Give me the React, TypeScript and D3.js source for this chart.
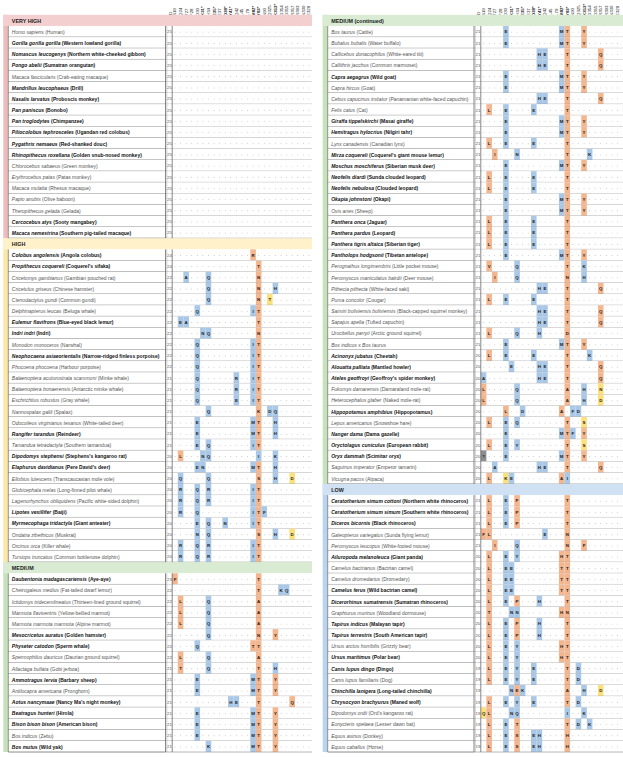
import React from "react";
import * as d3 from "d3";

const residues = ["S19","Q24","T27","F28","D30","K31*","H34","E35*","E37","D38*","Y41*","Q42","L45","L79","M82*","Y83*","N90","Q325","K353*","G354","D355","R357","R393","N330","E329"];

type Row = [string, string, number, number, string];

const veryHighRows: Row[] = [
  ["Homo sapiens","Human",0,25,""],
  ["Gorilla gorilla gorilla","Western lowland gorilla",1,25,""],
  ["Nomascus leucogenys","Northern white-cheeked gibbon",1,25,""],
  ["Pongo abelii","Sumatran orangutan",1,25,""],
  ["Macaca fascicularis","Crab-eating macaque",0,25,""],
  ["Mandrillus leucophaeus","Drill",1,25,""],
  ["Nasalis larvatus","Proboscis monkey",1,25,""],
  ["Pan paniscus","Bonobo",1,25,""],
  ["Pan troglodytes","Chimpanzee",1,25,""],
  ["Piliocolobus tephrosceles","Ugandan red colobus",1,25,""],
  ["Pygathrix nemaeus","Red-shanked douc",1,25,""],
  ["Rhinopithecus roxellana","Golden snub-nosed monkey",1,25,""],
  ["Chlorocebus sabaeus","Green monkey",0,25,""],
  ["Erythrocebus patas","Patas monkey",0,25,""],
  ["Macaca mulatta","Rhesus macaque",0,25,""],
  ["Papio anubis","Olive baboon",0,25,""],
  ["Theropithecus gelada","Gelada",0,25,""],
  ["Cercocebus atys","Sooty mangabey",1,25,""],
  ["Macaca nemestrina","Southern pig-tailed macaque",1,25,""],
];

const highRows: Row[] = [
  ["Colobus angolensis","Angola colobus",1,24,"14R:o"],
  ["Propithecus coquereli","Coquerel's sifaka",1,24,"15T:o"],
  ["Cricetomys gambianus","Gambian pouched rat",0,22,"2A:b 6Q:b 15N:o"],
  ["Cricetulus griseus","Chinese hamster",0,22,"6Q:b 15N:o 18H:b"],
  ["Ctenodactylus gundi","Common gundi",0,22,"6Q:b 15N:o 17T:y"],
  ["Delphinapterus leucas","Beluga whale",0,22,"4Q:b 14I:b 15T:o"],
  ["Eulemur flavifrons","Blue-eyed black lemur",1,22,"1E:b 2A:b 15T:o"],
  ["Indri indri","Indri",1,22,"5N:b 6Q:b 15N:o"],
  ["Monodon monoceros","Narwhal",0,22,"4Q:b 14I:b 15T:o"],
  ["Neophocaena asiaeorientalis","Narrow-ridged finless porpoise",1,22,"4Q:b 14I:b 15T:o"],
  ["Phocoena phocoena","Harbour porpoise",0,22,"4Q:b 14I:b 15T:o"],
  ["Balaenoptera acutorostrata scammoni","Minke whale",0,21,"4Q:b 11R:b 14I:b 15T:o"],
  ["Balaenoptera bonaerensis","Antarctic minke whale",0,21,"4Q:b 11R:b 14I:b 15T:o"],
  ["Eschrichtius robustus","Gray whale",0,21,"4Q:b 11E:b 14I:b 15T:o"],
  ["Nannospalax galili","Spalax",0,21,"6Q:b 15K:o 17D:b 18Q:b"],
  ["Odocoileus virginianus texanus","White-tailed deer",0,21,"4E:b 14M:b 15T:o 18H:b"],
  ["Rangifer tarandus","Reindeer",1,21,"4E:b 14M:b 15T:o 18H:b"],
  ["Tamandua tetradactyla","Southern tamandua",0,21,"4E:b 6Q:b 14I:b 15T:o"],
  ["Dipodomys stephensi","Stephens's kangaroo rat",1,20,"1L:o 5N:b 6Q:b 15I:b 18K:b"],
  ["Elaphurus davidianus","Pere David's deer",1,20,"4E:b 5N:b 14M:b 15T:o 18H:b"],
  ["Ellobius lutescens","Transcaucasian mole vole",0,20,"1Q:b 6Q:b 15S:o 18H:b 21D:y"],
  ["Globicephala melas","Long-finned pilot whale",0,20,"1R:b 4Q:b 6R:b 14I:b 15T:o"],
  ["Lagenorhynchus obliquidens","Pacific white-sided dolphin",0,20,"1R:b 4Q:b 6R:b 14I:b 15T:o"],
  ["Lipotes vexillifer","Baiji",1,20,"1R:b 4Q:b 14I:b 15T:o 16F:b"],
  ["Myrmecophaga tridactyla","Giant anteater",1,20,"4E:b 6Q:b 9N:b 14I:b 15T:o"],
  ["Ondatra zibethicus","Muskrat",0,20,"4N:b 6Q:b 15S:o 18H:b 21D:y"],
  ["Orcinus orca","Killer whale",0,20,"1R:b 4Q:b 6R:b 14I:b 15T:o"],
  ["Tursiops truncatus","Common bottlenose dolphin",0,20,"1R:b 4Q:b 6R:b 14I:b 15T:o"],
];

const mediumRows: Row[] = [
  ["Daubentonia madagascariensis","Aye-aye",1,23,"0F:o 15T:o"],
  ["Cheirogaleus medius","Fat-tailed dwarf lemur",0,22,"15T:o 19K:b 20Q:b"],
  ["Ictidomys tridecemlineatus","Thirteen-lined ground squirrel",0,22,"1L:o 6Q:b 15A:o"],
  ["Marmota flaviventris","Yellow-bellied marmot",0,22,"1L:o 6Q:b 15A:o"],
  ["Marmota marmota marmota","Alpine marmot",0,22,"1L:o 6Q:b 15A:o"],
  ["Mesocricetus auratus","Golden hamster",1,22,"6Q:b 15N:o 18Y:o"],
  ["Physeter catodon","Sperm whale",1,22,"4Q:b 14T:o 15T:o"],
  ["Spermophilus dauricus","Daurian ground squirrel",0,22,"1L:o 6Q:b 15A:o"],
  ["Allactaga bullata","Gobi jerboa",0,21,"1T:o 6Q:b 15T:o 18H:b"],
  ["Ammotragus lervia","Barbary sheep",1,21,"4E:b 14M:b 15T:o 18Y:o"],
  ["Antilocapra americana","Pronghorn",0,21,"4E:b 14M:b 15T:o 18Y:o"],
  ["Aotus nancymaae","Nancy Ma's night monkey",1,21,"10H:b 11E:b 15T:o 21Q:o"],
  ["Beatragus hunteri","Hirola",1,21,"4E:b 14M:b 15T:o 18Y:o"],
  ["Bison bison bison","American bison",1,21,"4E:b 14M:b 15T:o 18Y:o"],
  ["Bos indicus","Zebu",0,21,"4E:b 14M:b 15T:o 18Y:o"],
  ["Bos mutus","Wild yak",1,21,"6K:b 14M:b 15T:o 18Y:o"],
];

const mediumContRows: Row[] = [
  ["Bos taurus","Cattle",0,21,"4E:b 14M:b 15T:o 18Y:o"],
  ["Bubalus bubalis","Water buffalo",0,21,"4E:b 14M:b 15T:o 18Y:o"],
  ["Callicebus donacophilus","White-eared titi",0,21,"10H:b 11E:b 15T:o 21Q:o"],
  ["Callithrix jacchus","Common marmoset",0,21,"10H:b 11E:b 15T:o 21Q:o"],
  ["Capra aegagrus","Wild goat",1,21,"4E:b 14M:b 15T:o 18Y:o"],
  ["Capra hircus","Goat",0,21,"4E:b 14M:b 15T:o 18Y:o"],
  ["Cebus capucinus imitator","Panamanian white-faced capuchin",0,21,"10H:b 11E:b 15T:o 21Q:o"],
  ["Felis catus","Cat",0,21,"1L:o 4E:b 9E:b 15T:o"],
  ["Giraffa tippelskirchi","Masai giraffe",1,21,"4E:b 14M:b 15T:o 18Y:o"],
  ["Hemitragus hylocrius","Nilgiri tahr",1,21,"4E:b 14M:b 15T:o 18Y:o"],
  ["Lynx canadensis","Canadian lynx",0,21,"1L:o 4E:b 9E:b 15T:o"],
  ["Mirza coquereli","Coquerel's giant mouse lemur",1,21,"2I:o 6N:b 15T:o 19K:b"],
  ["Moschus moschiferus","Siberian musk deer",1,21,"4E:b 14M:b 15T:o 18Y:o"],
  ["Neofelis diardi","Sunda clouded leopard",1,21,"1L:o 4E:b 9E:b 15T:o"],
  ["Neofelis nebulosa","Clouded leopard",1,21,"1L:o 4E:b 9E:b 15T:o"],
  ["Okapia johnstoni","Okapi",1,21,"4E:b 14M:b 15T:o 18Y:o"],
  ["Ovis aries","Sheep",0,21,"4E:b 14M:b 15T:o 18Y:o"],
  ["Panthera onca","Jaguar",1,21,"1L:o 4E:b 9E:b 15T:o"],
  ["Panthera pardus","Leopard",1,21,"1L:o 4E:b 9E:b 15T:o"],
  ["Panthera tigris altaica","Siberian tiger",1,21,"1L:o 4E:b 9E:b 15T:o"],
  ["Pantholops hodgsonii","Tibetan antelope",1,21,"4E:b 14M:b 15T:o 18Y:o"],
  ["Perognathus longimembris","Little pocket mouse",0,21,"1V:o 6Q:b 15T:o 18K:b"],
  ["Peromyscus maniculatus bairdii","Deer mouse",0,21,"2I:o 6Q:b 15N:o 18H:b"],
  ["Pithecia pithecia","White-faced saki",0,21,"10H:b 11E:b 15T:o 21Q:o"],
  ["Puma concolor","Cougar",0,21,"1L:o 4E:b 9E:b 15T:o"],
  ["Saimiri boliviensis boliviensis","Black-capped squirrel monkey",0,21,"10H:b 11E:b 15T:o 21Q:o"],
  ["Sapajus apella","Tufted capuchin",0,21,"10H:b 11E:b 15T:o 21Q:o"],
  ["Urocitellus parryii","Arctic ground squirrel",0,21,"1L:o 6Q:b 10H:b 15D:o"],
  ["Bos indicus x Bos taurus","",0,21,"4E:b 14M:b 15T:o 18Y:o"],
  ["Acinonyx jubatus","Cheetah",1,20,"1L:o 4E:b 9E:b 15T:o 19K:b"],
  ["Alouatta palliata","Mantled howler",1,20,"5E:b 10H:b 11E:b 15T:o 21Q:o"],
  ["Ateles geoffroyi","Geoffroy's spider monkey",1,20,"0A:b 10H:b 11E:b 15T:o 21Q:o"],
  ["Fukomys damarensis","Damaraland mole-rat",0,20,"0L:o 6Q:b 15A:o 18H:b 21N:y"],
  ["Heterocephalus glaber","Naked mole-rat",0,20,"0L:o 6Q:b 15A:o 18H:b 21D:y"],
  ["Hippopotamus amphibius","Hippopotamus",1,20,"4L:o 7D:b 14A:o 16F:b 17D:b"],
  ["Lepus americanus","Snowshoe hare",0,20,"1L:o 4E:b 6Q:b 15T:o 18S:y"],
  ["Nanger dama","Dama gazelle",1,20,"4E:b 14M:b 15T:o 16F:b 18Y:o"],
  ["Oryctolagus cuniculus","European rabbit",1,20,"1L:o 4E:b 6Y:b 15T:o 18S:y"],
  ["Oryx dammah","Scimitar oryx",1,20,"0?:g 4E:b 14M:b 15T:o 18Y:o"],
  ["Saguinus imperator","Emperor tamarin",0,20,"2A:b 10H:b 11E:b 15T:o 21Q:o"],
  ["Vicugna pacos","Alpaca",0,20,"1L:o 4K:y 5E:b 14A:o 15I:b"],
];

const lowRows: Row[] = [
  ["Ceratotherium simum cottoni","Northern white rhinoceros",1,21,"1L:o 4E:b 6P:o 15T:o"],
  ["Ceratotherium simum simum","Southern white rhinoceros",1,21,"1L:o 4E:b 6P:o 15T:o"],
  ["Diceros bicornis","Black rhinoceros",1,21,"1L:o 4E:b 6P:o 15T:o"],
  ["Galeopterus variegatus","Sunda flying lemur",0,21,"0F:o 1L:o 11E:b 15N:o"],
  ["Peromyscus leucopus","White-footed mouse",0,21,"2I:o 6Q:b 15N:o 18F:o"],
  ["Ailuropoda melanoleuca","Giant panda",1,20,"1L:o 4E:b 6Y:b 14H:o 15T:o"],
  ["Camelus bactrianus","Bactrian camel",0,20,"1L:o 4E:b 5E:b 14T:o 15T:o"],
  ["Camelus dromedarius","Dromedary",0,20,"1L:o 4E:b 5E:b 14T:o 15T:o"],
  ["Camelus ferus","Wild bactrian camel",1,20,"1L:o 4E:b 5E:b 14T:o 15T:o"],
  ["Dicerorhinus sumatrensis","Sumatran rhinoceros",1,20,"1L:o 4E:b 6P:o 10H:b 15T:o"],
  ["Graphiurus murinus","Woodland dormouse",0,20,"1T:o 5N:b 6N:b 14H:o 15N:o"],
  ["Tapirus indicus","Malayan tapir",1,20,"1L:o 4E:b 6P:o 10H:b 15T:o"],
  ["Tapirus terrestris","South American tapir",1,20,"1L:o 4E:b 6P:o 10H:b 15T:o"],
  ["Ursus arctos horribilis","Grizzly bear",0,20,"1L:o 4E:b 6Y:b 14H:o 15T:o"],
  ["Ursus maritimus","Polar bear",1,20,"1L:o 4E:b 6Y:b 14H:o 15T:o"],
  ["Canis lupus dingo","Dingo",1,19,"1L:o 4E:b 6Y:b 9E:b 15T:o 17D:b"],
  ["Canis lupus familiaris","Dog",0,19,"1L:o 4E:b 6Y:b 9E:b 15T:o 17D:b"],
  ["Chinchilla lanigera","Long-tailed chinchilla",1,19,"5N:b 6E:o 7K:b 15A:o 18H:b 21D:y"],
  ["Chrysocyon brachyurus","Maned wolf",1,19,"1L:o 4E:b 6Y:b 9E:b 15T:o 17D:b"],
  ["Dipodomys ordii","Ord's kangaroo rat",0,19,"0Q:y 1L:o 5N:b 6Q:b 15I:b 18K:b"],
  ["Eonycteris spelaea","Lesser dawn bat",0,19,"1L:o 4E:b 6T:o 15T:o 17D:b 19K:b"],
  ["Equus asinus","Donkey",0,19,"1L:o 4E:b 6S:o 9E:b 10H:b 15H:o"],
  ["Equus caballus","Horse",0,19,"1L:o 4E:b 6S:o 9E:b 10H:b 15H:o"],
];

const sectionColors: Record<string, { bar: string; stripe: string }> = {
  vh: { bar: "#f4cfcf", stripe: "#eebcbc" },
  hi: { bar: "#fff1c9", stripe: "#fde7a6" },
  md: { bar: "#d9ebd2", stripe: "#c6e2ba" },
  lo: { bar: "#cfe1f3", stripe: "#b9d4ee" },
};
const cellColors: Record<string, string> = { b: "#a9c7e6", o: "#f4b68f", y: "#fbe07c", g: "#8e8e8e" };

type Item = { kind: "h"; label: string; sec: string } | { kind: "r"; row: Row; sec: string };

const leftItems: Item[] = [
  { kind: "h", label: "VERY HIGH", sec: "vh" },
  ...veryHighRows.map((row) => ({ kind: "r" as const, row, sec: "vh" })),
  { kind: "h", label: "HIGH", sec: "hi" },
  ...highRows.map((row) => ({ kind: "r" as const, row, sec: "hi" })),
  { kind: "h", label: "MEDIUM", sec: "md" },
  ...mediumRows.map((row) => ({ kind: "r" as const, row, sec: "md" })),
];
const rightItems: Item[] = [
  { kind: "h", label: "MEDIUM (continued)", sec: "md" },
  ...mediumContRows.map((row) => ({ kind: "r" as const, row, sec: "md" })),
  { kind: "h", label: "LOW", sec: "lo" },
  ...lowRows.map((row) => ({ kind: "r" as const, row, sec: "lo" })),
];

const ROW_H = 11.17;
const TOP = 14.8;
const CW = 5.58;
const FONT = "'Liberation Sans', Arial, sans-serif";

function parseSubs(s: string) {
  if (!s) return [] as { col: number; aa: string; c: string }[];
  return s.split(" ").map((t) => {
    const m = t.match(/^(\d+)(.):(.)$/)!;
    return { col: +m[1], aa: m[2], c: m[3] };
  });
}

function Panel({ items, x0, nameX1, cellX0, right }: { items: Item[]; x0: number; nameX1: number; cellX0: number; right: number }) {
  const y = d3.scaleLinear().domain([0, 1]).range([TOP, TOP + ROW_H]);
  const x = d3.scaleBand<number>().domain(d3.range(25)).range([cellX0, cellX0 + 25 * CW]);
  const cx = (i: number) => x(i)! + x.bandwidth() / 2;
  const stripeW = 5;
  const secs: { sec: string; start: number; end: number }[] = [];
  items.forEach((it, i) => {
    if (it.kind === "h") secs.push({ sec: it.sec, start: i, end: i + 1 });
    else secs[secs.length - 1].end = i + 1;
  });
  const scoreCx = (nameX1 + cellX0) / 2 + 0.5;
  return (
    <g>
      <text x={scoreCx + 1} y={16} transform={`rotate(-90 ${scoreCx + 1} 16)`} fontSize={4.4} fontFamily={FONT} fill="#222" dominantBaseline="central">ID</text>
      {residues.map((r, i) => (
        <text key={r} x={cx(i)} y={16} transform={`rotate(-90 ${cx(i)} 16)`} fontSize={4.4} fontFamily={FONT} fill="#222" fontWeight={r.includes("*") ? "bold" : "normal"} dominantBaseline="central">{r}</text>
      ))}
      {secs.map((s, k) => (
        <rect key={k} x={x0} y={y(s.start)} width={stripeW} height={y(s.end) - y(s.start)} fill={sectionColors[s.sec].stripe} />
      ))}
      {items.map((it, i) => {
        const top = y(i);
        const mid = top + ROW_H / 2;
        if (it.kind === "h") {
          return (
            <g key={i}>
              <rect x={x0} y={top} width={right - x0} height={ROW_H} fill={sectionColors[it.sec].bar} />
              <text x={x0 + 8.5} y={mid + 0.3} fontSize={5.4} fontWeight="bold" fontFamily={FONT} fill="#222" dominantBaseline="central">{it.label}</text>
            </g>
          );
        }
        const [sci, common, bold, score, subs] = it.row;
        const ps = parseSubs(subs);
        const used = new Set(ps.map((p) => p.col));
        const fill = bold ? "#111" : "#555";
        const fw = bold ? "bold" : "normal";
        let nameNode: React.ReactNode;
        if (sci.includes(" x ")) {
          const [a, b] = sci.split(" x ");
          nameNode = (<><tspan fontStyle="italic">{a}</tspan><tspan>{" x "}</tspan><tspan fontStyle="italic">{b}</tspan></>);
        } else {
          nameNode = (<><tspan fontStyle="italic">{sci}</tspan>{common ? <tspan>{` (${common})`}</tspan> : null}</>);
        }
        return (
          <g key={i}>
            <rect x={x0 + stripeW} y={top} width={right - x0 - stripeW} height={ROW_H} fill="#fff" />
            {ps.map((p) => (
              <rect key={p.col} x={x(p.col)!} y={top} width={x.bandwidth()} height={ROW_H} fill={cellColors[p.c]} />
            ))}
            <text x={x0 + stripeW + 3.5} y={mid + 0.3} fontSize={5.0} fontFamily={FONT} fill={fill} fontWeight={fw} dominantBaseline="central">{nameNode}</text>
            <text x={nameX1 + 1.6} y={mid + 0.3} fontSize={4.3} fontFamily={FONT} fill="#555" dominantBaseline="central">{score}</text>
            {d3.range(25).filter((c) => !used.has(c)).map((c) => (
              <circle key={c} cx={cx(c)} cy={mid + 0.5} r={0.42} fill="#999" />
            ))}
            {ps.map((p) => (
              <text key={"t" + p.col} x={cx(p.col)} y={mid + 0.3} fontSize={4.4} fontWeight="bold" fontFamily={FONT} fill="#222" textAnchor="middle" dominantBaseline="central">{p.aa}</text>
            ))}
            <line x1={x0 + stripeW} x2={nameX1} y1={top + ROW_H} y2={top + ROW_H} stroke="#6e6e6e" strokeWidth={0.8} />
            <line x1={nameX1} x2={right} y1={top + ROW_H} y2={top + ROW_H} stroke="#9a9a9a" strokeWidth={0.7} />
          </g>
        );
      })}
      {secs.map((s, k) => (
        <g key={"v" + k}>
          <line x1={x0 + stripeW} x2={x0 + stripeW} y1={y(s.start + 1)} y2={y(s.end)} stroke="#666" strokeWidth={0.7} />
          <line x1={nameX1} x2={nameX1} y1={y(s.start + 1)} y2={y(s.end)} stroke="#555" strokeWidth={0.7} />
          <line x1={nameX1 + 1.3} x2={nameX1 + 1.3} y1={y(s.start + 1)} y2={y(s.end)} stroke="#888" strokeWidth={0.4} />
          <line x1={cellX0} x2={cellX0} y1={y(s.start + 1)} y2={y(s.end)} stroke="#555" strokeWidth={0.7} />
        </g>
      ))}
    </g>
  );
}

export default function App() {
  return (
    <svg width={623} height={757} style={{ position: "absolute", left: 0, top: 0, background: "#fff" }}>
      <rect width={623} height={757} fill="#fff" />
      <Panel items={leftItems} x0={3.3} nameX1={165.5} cellX0={172.2} right={312} />
      <Panel items={rightItems} x0={322.7} nameX1={474} cellX0={480.8} right={623} />
    </svg>
  );
}
